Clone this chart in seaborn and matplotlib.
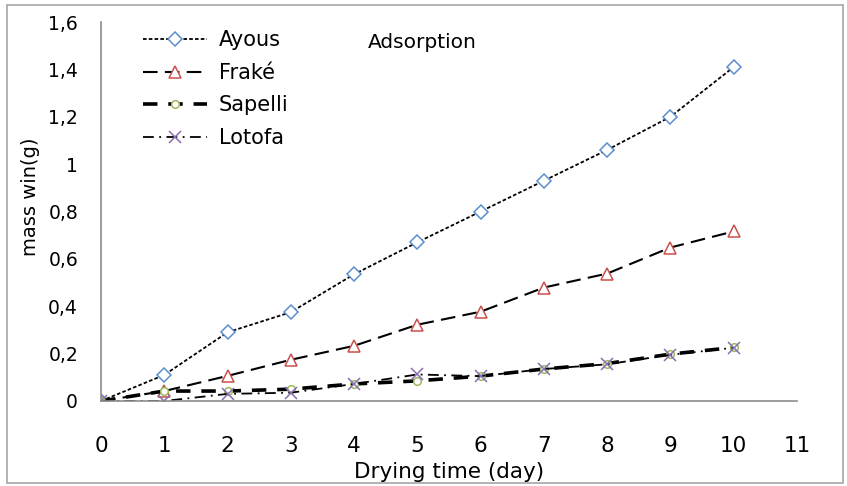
import numpy as np
import pandas as pd
import matplotlib
matplotlib.use("Agg")
import matplotlib.pyplot as plt
from matplotlib.patches import Rectangle
from matplotlib.ticker import MultipleLocator
import seaborn as sns

# Data
days = [0, 1, 2, 3, 4, 5, 6, 7, 8, 9, 10]
ayous = [0.0, 0.11, 0.29, 0.375, 0.535, 0.67, 0.80, 0.93, 1.06, 1.20, 1.41]
frake = [0.0, 0.042, 0.106, 0.174, 0.233, 0.322, 0.377, 0.479, 0.538, 0.648, 0.716]
sapelli = [0.0, 0.042, 0.042, 0.05, 0.072, 0.085, 0.105, 0.135, 0.158, 0.198, 0.226]
lotofa = [0.0, 0.0, 0.03, 0.035, 0.072, 0.112, 0.105, 0.135, 0.155, 0.195, 0.225]

series_names = ["Ayous", "Fraké", "Sapelli", "Lotofa"]
y_ticks = [0, 0.2, 0.4, 0.6, 0.8, 1.0, 1.2, 1.4, 1.6]
y_tick_labels = ["0", "0,2", "0,4", "0,6", "0,8", "1", "1,2", "1,4", "1,6"]
x_ticks = list(range(0, 12))

df = pd.DataFrame({"day": days, "Ayous": ayous, "Fraké": frake,
                   "Sapelli": sapelli, "Lotofa": lotofa})

sns.set_style("white")
plt.rcParams["font.family"] = ["DejaVu Sans"]
plt.rcParams["text.color"] = "black"
plt.rcParams["axes.labelcolor"] = "black"
plt.rcParams["xtick.labelcolor"] = "black"
plt.rcParams["ytick.labelcolor"] = "black"

# line / marker style per series
styles = {
    "Ayous": dict(ls=(0, (2.0, 1.2)), lw=1.3, marker="D", ms=7, mec="#5B8FD0"),
    "Fraké": dict(ls=(0, (7, 3.5)), lw=1.5, marker="^", ms=9, mec="#C9504D"),
    "Sapelli": dict(ls=(0, (4, 3)), lw=2.6, marker="o", ms=5.5, mec="#9BBB59"),
    "Lotofa": dict(ls=(0, (6, 3, 1, 3)), lw=1.3, marker="x", ms=8.5, mec="#8A6CB2"),
}

fig = plt.figure(figsize=(8.47, 4.86), dpi=100)
ax = fig.add_axes([101 / 847, 1 - 401 / 486, 696 / 847, 379 / 486])

for name in series_names:
    st = styles[name]
    sns.lineplot(data=df, x="day", y=name, ax=ax, color="black",
                 linestyle=st["ls"], linewidth=st["lw"], marker=st["marker"],
                 markersize=st["ms"], markeredgecolor=st["mec"],
                 markerfacecolor="white", markeredgewidth=1.1, label=name)

ax.set_xlim(0, 11)
ax.set_ylim(0, 1.6)
ax.set_xticks(x_ticks)
ax.set_xticklabels([str(t) for t in x_ticks])
ax.set_yticks(y_ticks)
ax.set_yticklabels(y_tick_labels)
ax.xaxis.set_minor_locator(MultipleLocator(0.4))
ax.yaxis.set_minor_locator(MultipleLocator(0.04))

axis_gray = "#8C8C8C"
for side in ["top", "right"]:
    ax.spines[side].set_visible(False)
for side in ["left", "bottom"]:
    ax.spines[side].set_color(axis_gray)
    ax.spines[side].set_linewidth(1.2)

ax.tick_params(axis="x", which="major", direction="out", length=6.5, width=1.1,
               color=axis_gray, labelsize=15.5, pad=19)
ax.tick_params(axis="x", which="minor", direction="in", length=5.5, width=1.1,
               color=axis_gray)
ax.tick_params(axis="y", which="major", direction="out", length=4.5, width=1.1,
               color=axis_gray, labelsize=13.5, pad=12)
ax.tick_params(axis="y", which="minor", direction="in", length=4.5, width=1.1,
               color=axis_gray)

ax.set_xlabel("Drying time (day)", fontsize=15.5)
ax.xaxis.set_label_coords(0.5, -0.16)
ax.set_ylabel("mass win(g)", fontsize=14)
ax.yaxis.set_label_coords(-0.088, 0.54)

ax.text(0.384, 0.945, "Adsorption", transform=ax.transAxes, fontsize=14.5,
        ha="left", va="center")

leg = ax.legend(loc="upper left", bbox_to_anchor=(0.048, 1.0), frameon=False,
                borderaxespad=0, fontsize=15, handlelength=3.1,
                handletextpad=0.55, labelspacing=0.6)

# grey border around the whole chart
fig.patches.append(Rectangle((7 / 847, 3 / 486), 836 / 847, 478 / 486,
                             transform=fig.transFigure, fill=False,
                             edgecolor="#A6A6A6", linewidth=1.2))

plt.savefig("out.png", dpi=100)
